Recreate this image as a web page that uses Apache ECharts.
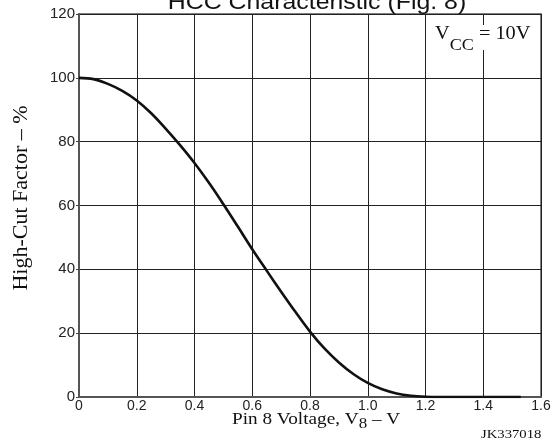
<!DOCTYPE html>
<html><head><meta charset="utf-8">
<script src="https://cdn.jsdelivr.net/npm/echarts@6/dist/echarts.min.js"></script>
<style>html,body{margin:0;padding:0;background:#fff}#c{width:558px;height:443px}</style>
</head><body><div id="c"></div>
<script>
const titleText = 'HCC Characteristic (Fig. 8)';
const xTickValues = [0, 0.2, 0.4, 0.6, 0.8, 1.0, 1.2, 1.4, 1.6];
const yTickValues = [0, 20, 40, 60, 80, 100, 120];
const voltage = [0, 0.05, 0.1, 0.15, 0.2, 0.25, 0.3, 0.35, 0.4, 0.45, 0.5, 0.55, 0.6, 0.65, 0.7, 0.75, 0.8, 0.85, 0.9, 0.95, 1.0, 1.05, 1.1, 1.15, 1.2, 1.25, 1.4, 1.53];
const highCut = [100, 99.6, 98.1, 95.9, 92.9, 88.9, 84.1, 78.9, 73.3, 67.1, 60.4, 53.4, 46.3, 39.6, 33.0, 26.6, 20.5, 15.2, 10.8, 7.2, 4.4, 2.4, 1.1, 0.4, 0.08, 0, 0, 0];

const chart = echarts.init(document.getElementById('c'));
const serif = '"Liberation Serif", "Times New Roman", serif';
const sans = '"Liberation Sans", Arial, sans-serif';
const SX = 1.13;
chart.setOption({
  animation: false,
  backgroundColor: '#fff',
  grid: { left: 79, right: 17, top: 14, bottom: 46, show: true, borderColor: '#555', borderWidth: 1.5 },
  xAxis: {
    type: 'value', min: 0, max: 1.6, interval: 0.2,
    axisLine: { show: true, lineStyle: { color: '#555', width: 2 } },
    axisTick: { show: false },
    splitLine: { show: true, lineStyle: { color: '#222', width: 1 } },
    axisLabel: { color: '#222', fontFamily: sans, fontSize: 14, margin: 2,
      formatter: v => { const t = xTickValues.find(x => Math.abs(x - v) < 1e-9); return t === 0 ? '0' : (t !== undefined ? t.toFixed(1) : ''); } }
  },
  yAxis: {
    type: 'value', min: 0, max: 120, interval: 20,
    axisLine: { show: true, lineStyle: { color: '#555', width: 2 } },
    axisTick: { show: true, length: 3, lineStyle: { color: '#444' } },
    splitLine: { show: true, lineStyle: { color: '#222', width: 1 } },
    axisLabel: { color: '#222', fontFamily: sans, fontSize: 15, margin: 4,
      formatter: v => yTickValues.includes(v) ? String(v) : '' }
  },
  series: [{
    type: 'line', smooth: 0.35, symbol: 'none',
    lineStyle: { color: '#111', width: 2.6 },
    data: voltage.map((v, i) => [v, highCut[i]])
  }],
  graphic: [
    { type: 'text', x: 317, y: 3, scaleX: SX, style: { text: titleText, font: '22px ' + sans, fill: '#111', align: 'center', verticalAlign: 'middle' } },
    { type: 'rect', shape: { x: 432, y: 25, width: 102, height: 25 }, style: { fill: '#fff' }, z: 10 },
    { type: 'text', x: 435, y: 25, z: 11, scaleX: SX, style: { text: '{v|V}{s|CC}{v| = 10V}', fill: '#111', verticalAlign: 'top',
        rich: { v: { fontSize: 18, fontFamily: serif, lineHeight: 18, fill: '#111', verticalAlign: 'top' },
                s: { fontSize: 16, fontFamily: serif, lineHeight: 16, padding: [13, 0, 0, 0], fill: '#111', verticalAlign: 'top' } } } },
    { type: 'text', x: 21, y: 198, rotation: Math.PI / 2, style: { text: 'High-Cut Factor – %', font: '22px ' + serif, fill: '#111', align: 'center', verticalAlign: 'middle' } },
    { type: 'text', x: 232, y: 411, scaleX: SX, style: { text: '{v|Pin 8 Voltage, V}{s|8}{v| – V}', fill: '#111', verticalAlign: 'top',
        rich: { v: { fontSize: 17, fontFamily: serif, lineHeight: 17, fill: '#111', verticalAlign: 'top' },
                s: { fontSize: 15, fontFamily: serif, lineHeight: 15, padding: [6, 0, 0, 0], fill: '#111', verticalAlign: 'top' } } } },
    { type: 'text', x: 481, y: 435, scaleX: SX, style: { text: 'JK337018', font: '13px ' + serif, fill: '#111', verticalAlign: 'middle' } }
  ]
});
</script></body></html>
